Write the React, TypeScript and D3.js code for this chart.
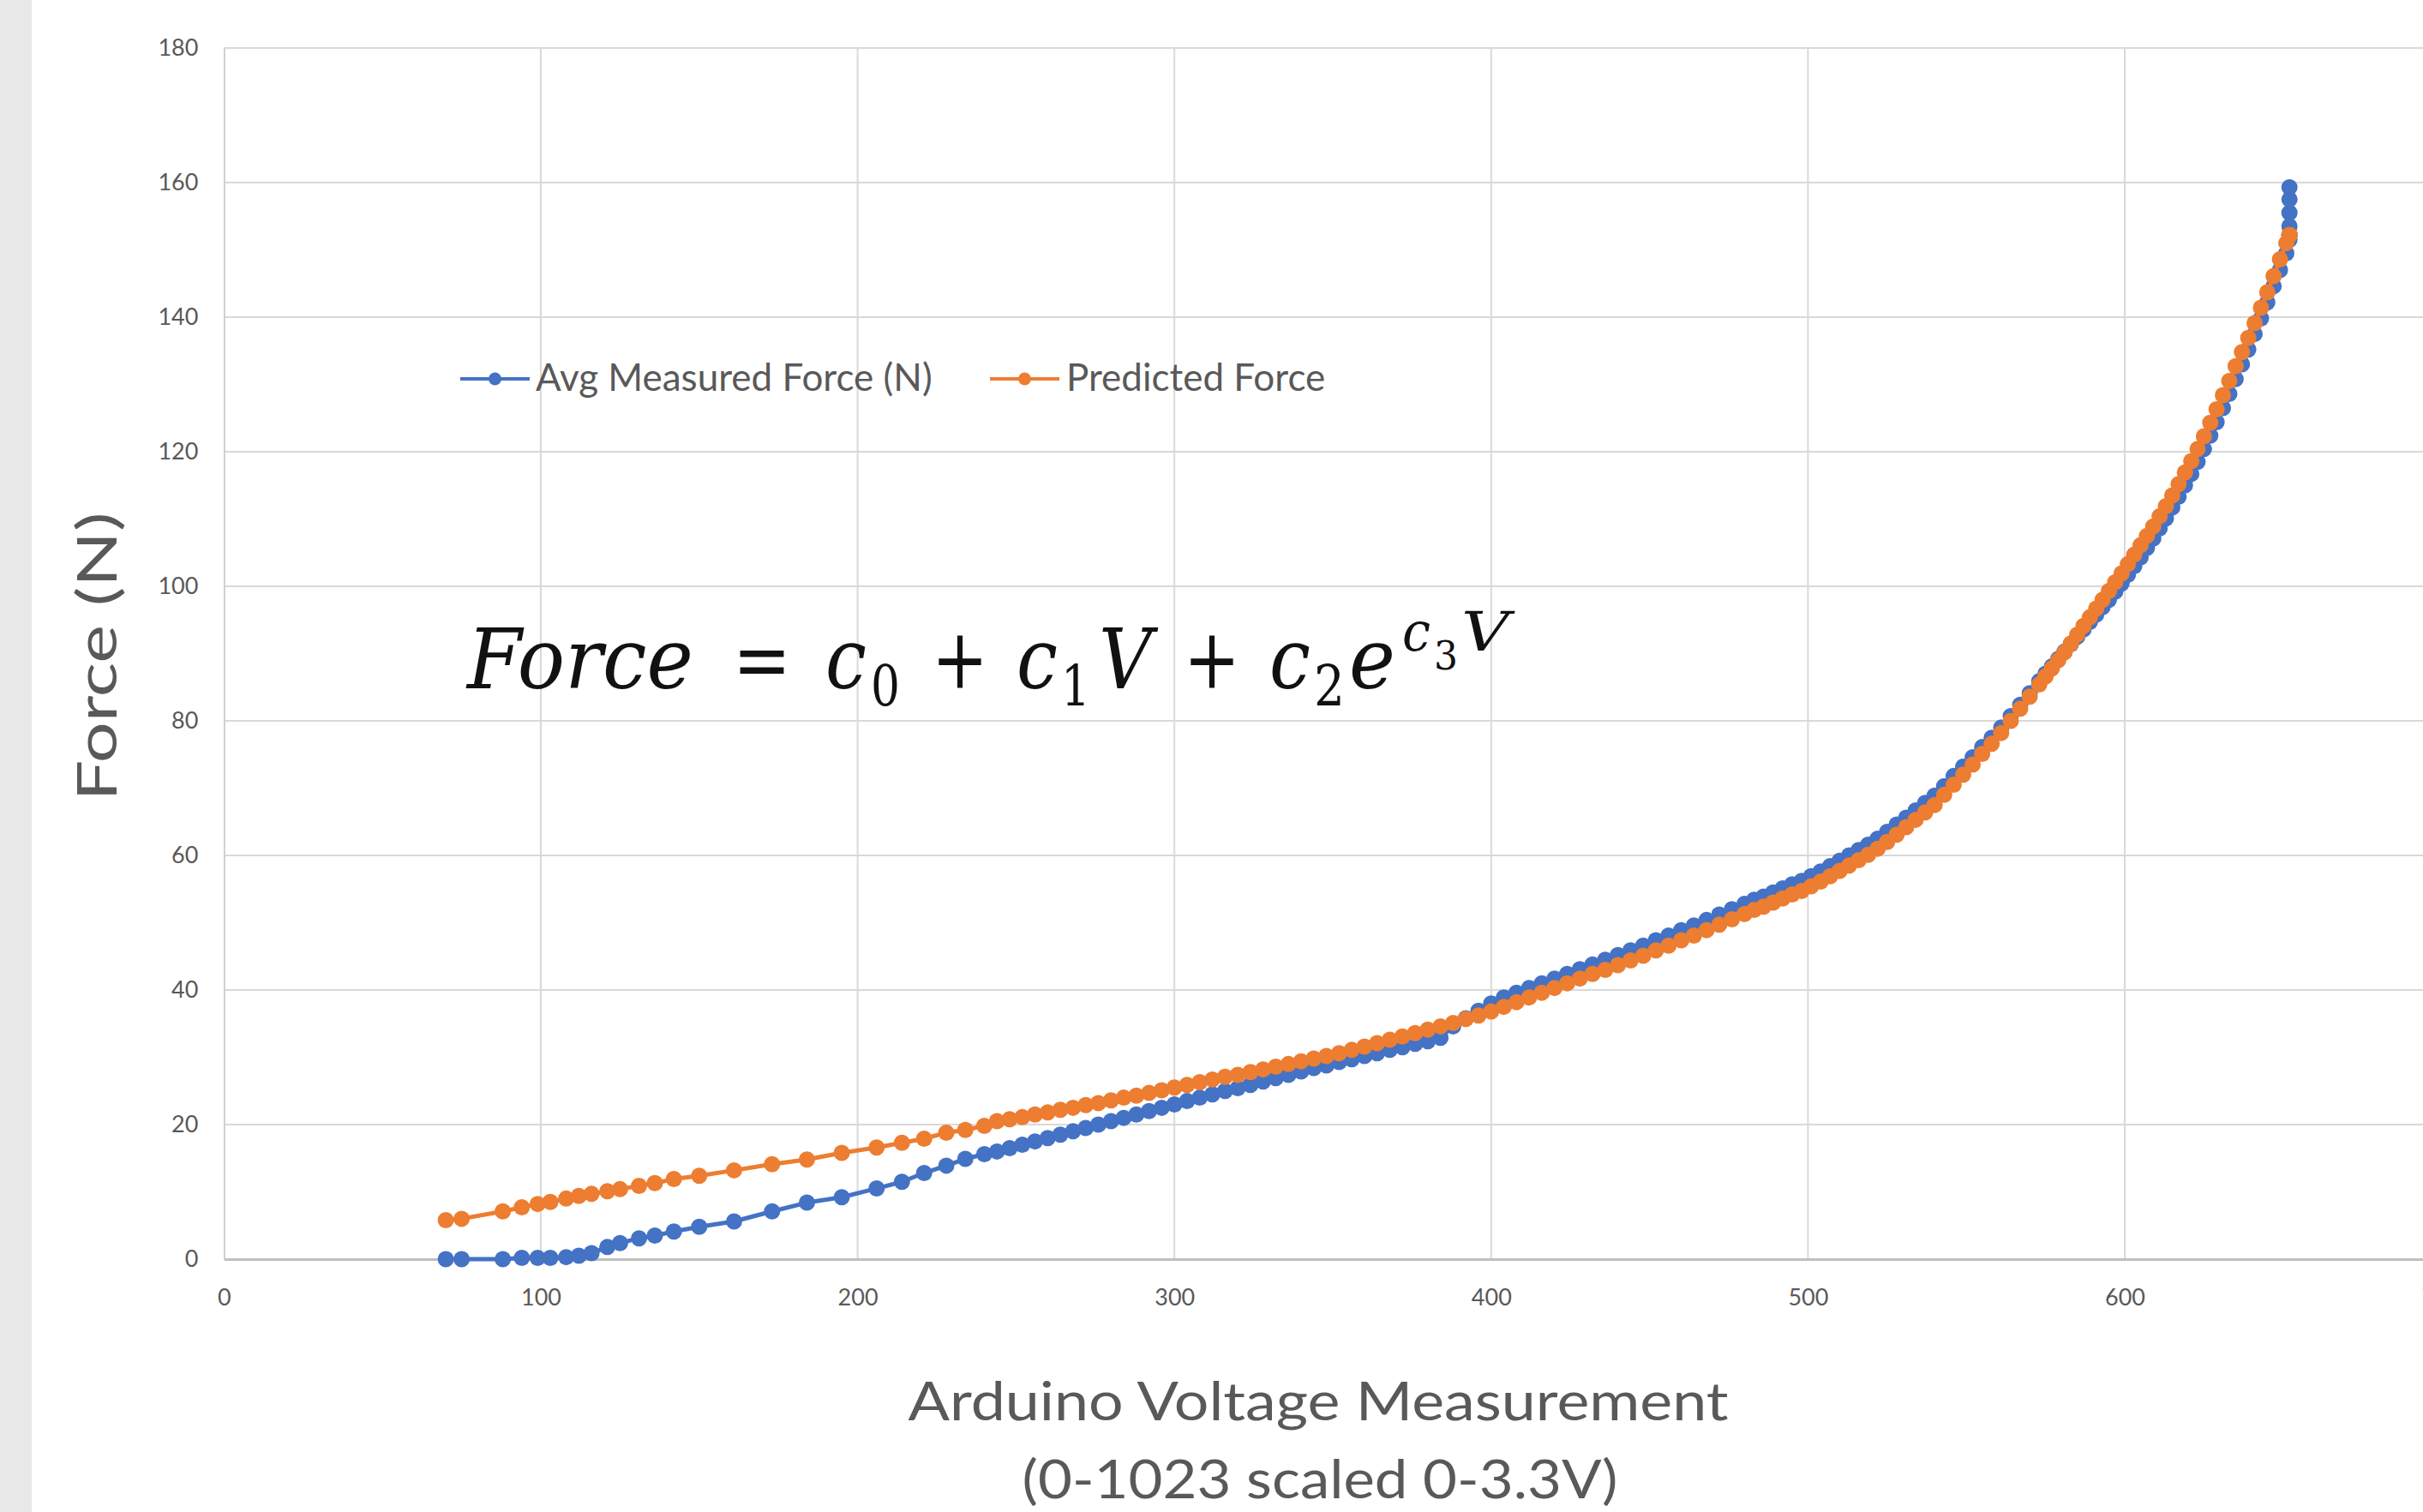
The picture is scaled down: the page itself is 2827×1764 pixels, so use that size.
import React, { useEffect, useRef } from 'react';
import * as d3 from 'd3';

// Arduino reading (0-1023 counts), shared by both series
const voltage = [
  70, 75, 88, 94, 99, 103, 108, 112, 116, 121, 125, 131, 136, 142, 150, 161, 173, 184, 195, 206, 214, 221, 228, 234, 240,
  244, 248, 252, 256, 260, 264, 268, 272, 276, 280, 284, 288, 292, 296, 300,
  304, 308, 312, 316, 320, 324, 328, 332, 336, 340, 344, 348, 352, 356, 360, 364, 368, 372, 376, 380, 384,
  388, 392, 396, 400, 404, 408, 412, 416, 420, 424, 428, 432, 436, 440, 444, 448, 452, 456, 460, 464, 468, 472, 476, 480,
  483, 486, 489, 492, 495, 498, 501, 504, 507, 510, 513, 516, 519, 522, 525, 528, 531, 534, 537, 540,
  543, 546, 549, 552, 555, 558, 561, 564, 567, 570, 573,
  575, 577, 579, 581, 583, 585, 587, 589, 591, 593, 595, 597, 599, 601, 603, 605, 607, 609, 611, 613,
  615, 617, 619, 621, 623, 625, 627, 629, 631, 633, 635, 637, 639, 641, 643, 645, 647, 649, 651,
  652, 652, 652, 652, 652,
];

const measuredForce = [
  0, 0, 0, 0.2, 0.2, 0.2, 0.3, 0.5, 0.9, 1.8, 2.4, 3.1, 3.5, 4.1, 4.8, 5.6, 7.1, 8.4, 9.2, 10.5, 11.5, 12.8, 13.9, 14.9, 15.6,
  16.0, 16.5, 17.0, 17.5, 18.0, 18.5, 19.0, 19.5, 20.0, 20.5, 21.0, 21.5, 22.0, 22.5, 23.0,
  23.5, 24.0, 24.5, 25.0, 25.4, 25.9, 26.4, 26.9, 27.4, 27.9, 28.4, 28.8, 29.3, 29.7, 30.2, 30.6, 31.1, 31.5, 32.0, 32.4, 32.9,
  34.6, 35.8, 36.9, 38.0, 38.9, 39.6, 40.3, 41.0, 41.7, 42.4, 43.1, 43.8, 44.5, 45.2, 45.9, 46.6, 47.4, 48.1, 48.9, 49.6, 50.4, 51.2, 52.0, 52.8,
  53.4, 53.9, 54.5, 55.1, 55.7, 56.2, 56.9, 57.6, 58.4, 59.2, 60.0, 60.8, 61.6, 62.5, 63.5, 64.6, 65.6, 66.7, 67.8, 68.9,
  70.3, 71.8, 73.2, 74.6, 76.1, 77.5, 79.0, 80.7, 82.4, 84.1, 85.9,
  87.0, 88.1, 89.2, 90.3, 91.4, 92.5, 93.6, 94.7, 95.8, 96.9, 98.0, 99.2, 100.4, 101.7, 103.0, 104.3, 105.7, 107.1, 108.6, 110.1,
  111.7, 113.3, 115.0, 116.7, 118.5, 120.4, 122.4, 124.4, 126.5, 128.6, 130.8, 133.0, 135.2, 137.5, 139.8, 142.2, 144.6, 147.0, 149.5,
  151.5, 153.5, 155.5, 157.5, 159.3,
];

const predictedForce = [
  5.8, 6.0, 7.1, 7.7, 8.2, 8.5, 9.0, 9.4, 9.7, 10.1, 10.4, 10.9, 11.3, 11.9, 12.4, 13.2, 14.1, 14.8, 15.8, 16.6, 17.3, 17.9, 18.8, 19.2, 19.8,
  20.5, 20.8, 21.1, 21.5, 21.8, 22.2, 22.5, 22.9, 23.2, 23.6, 24.0, 24.3, 24.7, 25.1, 25.5,
  25.9, 26.3, 26.7, 27.1, 27.4, 27.8, 28.2, 28.6, 29.0, 29.4, 29.8, 30.2, 30.6, 31.1, 31.6, 32.1, 32.6, 33.1, 33.6, 34.1, 34.6,
  35.1, 35.7, 36.2, 36.8, 37.5, 38.2, 38.9, 39.6, 40.3, 41.0, 41.7, 42.4, 43.0, 43.7, 44.4, 45.1, 45.9, 46.6, 47.4, 48.1, 48.9, 49.7, 50.5, 51.3,
  51.9, 52.4, 53.0, 53.6, 54.2, 54.7, 55.4, 56.1, 56.9, 57.7, 58.5, 59.3, 60.1, 61.0, 62.0, 63.1, 64.2, 65.3, 66.4, 67.5,
  69.0, 70.5, 72.0, 73.5, 75.1, 76.6, 78.2, 80.0, 81.8, 83.6, 85.4,
  86.6, 87.8, 89.0, 90.2, 91.5, 92.8, 94.1, 95.4, 96.7, 98.0, 99.3, 100.6, 101.9, 103.3, 104.7, 106.1, 107.5, 108.9, 110.4, 111.9,
  113.5, 115.2, 116.9, 118.6, 120.4, 122.3, 124.3, 126.3, 128.4, 130.5, 132.7, 134.8, 136.9, 139.1, 141.4, 143.7, 146.1, 148.6, 151.0,
  152.2, 152.2, 152.2, 152.2, 152.2,
];

const xTicks = [0, 100, 200, 300, 400, 500, 600, 700];
const yTicks = [0, 20, 40, 60, 80, 100, 120, 140, 160, 180];
const seriesNames = ['Avg Measured Force (N)', 'Predicted Force'];
const seriesColors = ['#4472C4', '#ED7D31'];

const xTitle = ['Arduino Voltage Measurement', '(0-1023 scaled 0-3.3V)'];
const yTitle = 'Force (N)';

const labelFont = 'Lato, "Open Sans", sans-serif';
const mathFont = '"DejaVu Serif", "Liberation Serif", serif';

export default function App() {
  const ref = useRef<SVGSVGElement>(null);

  useEffect(() => {
    const svg = d3.select(ref.current);
    svg.selectAll('*').remove();
    draw(svg);
  }, []);

  return (
    <svg
      ref={ref}
      width={2827}
      height={1764}
      style={{ position: 'absolute', left: 0, top: 0, display: 'block' }}
    />
  );
}

function draw(svg: any) {
  const width = 2827, height = 1764;

  const x = d3.scaleLinear().domain([0, 700]).range([261.4, 2848.6]);
  const y = d3.scaleLinear().domain([0, 180]).range([1469, 56]);

  svg.append('rect').attr('width', width).attr('height', height).attr('fill', '#ffffff');
  // grey slide edge on the left
  svg.append('rect').attr('width', 37).attr('height', height).attr('fill', '#e8e8e8');

  // gridlines
  const grid = svg.append('g');
  grid.selectAll('line.h').data(yTicks.filter(t => t > 0)).enter().append('line')
    .attr('x1', x(0)).attr('x2', width)
    .attr('y1', (d: number) => y(d)).attr('y2', (d: number) => y(d))
    .attr('stroke', '#d9d9d9').attr('stroke-width', 2);
  grid.selectAll('line.v').data(xTicks.filter(t => t > 0)).enter().append('line')
    .attr('x1', (d: number) => x(d)).attr('x2', (d: number) => x(d))
    .attr('y1', y(180)).attr('y2', y(0))
    .attr('stroke', '#d9d9d9').attr('stroke-width', 2);

  const yAxis = svg.append('g')
    .attr('transform', `translate(${x(0)},0)`)
    .call(d3.axisLeft(y).tickValues(yTicks).tickSize(0).tickPadding(30));
  yAxis.select('.domain').attr('stroke', '#cfcfcf').attr('stroke-width', 2);
  yAxis.selectAll('text')
    .attr('font-family', labelFont).attr('font-size', 27).attr('fill', '#595959');

  const xAxis = svg.append('g')
    .attr('transform', `translate(0,${y(0)})`)
    .call(d3.axisBottom(x).tickValues(xTicks).tickSize(0).tickPadding(35));
  xAxis.select('.domain').attr('stroke', '#bfbfbf').attr('stroke-width', 3);
  xAxis.selectAll('text')
    .attr('font-family', labelFont).attr('font-size', 27).attr('fill', '#595959');

  const series = [measuredForce, predictedForce];

  series.forEach((vals, s) => {
    const line = d3.line<number>()
      .x((_d, i) => x(voltage[i]))
      .y(d => y(d));
    const g = svg.append('g');
    g.append('path')
      .attr('d', line(vals))
      .attr('fill', 'none')
      .attr('stroke', seriesColors[s])
      .attr('stroke-width', 5)
      .attr('stroke-linejoin', 'round');
    g.selectAll('circle').data(vals).enter().append('circle')
      .attr('cx', (_d: number, i: number) => x(voltage[i]))
      .attr('cy', (d: number) => y(d))
      .attr('r', 9.5)
      .attr('fill', seriesColors[s]);
  });

  // legend
  const legendItems = [
    { x0: 537, x1: 618, tx: 625 },
    { x0: 1155, x1: 1236, tx: 1244 },
  ];
  const legend = svg.append('g');
  legendItems.forEach((it, i) => {
    legend.append('line')
      .attr('x1', it.x0).attr('x2', it.x1).attr('y1', 442).attr('y2', 442)
      .attr('stroke', seriesColors[i]).attr('stroke-width', 4);
    legend.append('circle')
      .attr('cx', (it.x0 + it.x1) / 2).attr('cy', 442).attr('r', 7.5)
      .attr('fill', seriesColors[i]);
    legend.append('text')
      .attr('x', it.tx).attr('y', 456)
      .attr('font-family', labelFont).attr('font-size', 44).attr('fill', '#595959')
      .text(seriesNames[i]);
  });

  // axis titles
  svg.append('text')
    .attr('x', 1538).attr('y', 1657).attr('text-anchor', 'middle')
    .attr('font-family', labelFont).attr('font-size', 62).attr('fill', '#595959')
    .attr('textLength', 957).attr('lengthAdjust', 'spacingAndGlyphs')
    .text(xTitle[0]);
  svg.append('text')
    .attr('x', 1540).attr('y', 1748).attr('text-anchor', 'middle')
    .attr('font-family', labelFont).attr('font-size', 62).attr('fill', '#595959')
    .attr('textLength', 695).attr('lengthAdjust', 'spacingAndGlyphs')
    .text(xTitle[1]);
  svg.append('text')
    .attr('transform', 'translate(136,766) rotate(-90)')
    .attr('text-anchor', 'middle')
    .attr('font-family', labelFont).attr('font-size', 64).attr('fill', '#595959')
    .attr('textLength', 337).attr('lengthAdjust', 'spacingAndGlyphs')
    .text(yTitle);

  // fitted equation, one text element built from positioned pieces
  const eq = svg.append('text').attr('fill', '#111111').attr('font-family', mathFont);
  const piece = (t: string, px: number, py: number, size: number, w: number, italic: boolean) => {
    eq.append('tspan')
      .attr('x', px).attr('y', py)
      .attr('font-size', size)
      .attr('font-style', italic ? 'italic' : 'normal')
      .attr('textLength', w).attr('lengthAdjust', 'spacingAndGlyphs')
      .text(t);
  };
  piece('Force', 545, 803, 98, 264, true);
  piece('=', 855, 803, 98, 68, false);
  piece('c', 963, 803, 98, 48, true);
  piece('0', 1016, 823, 66, 34, false);
  piece('+', 1087, 803, 98, 66, false);
  piece('c', 1186, 803, 98, 48, true);
  piece('1', 1238, 823, 66, 34, false);
  piece('V', 1282, 803, 98, 62, true);
  piece('+', 1381, 803, 98, 66, false);
  piece('c', 1481, 803, 98, 48, true);
  piece('2', 1533, 823, 66, 36, false);
  piece('e', 1574, 803, 98, 54, true);
  piece('c', 1636, 759, 64, 33, true);
  piece('3', 1673, 781, 46, 28, false);
  piece('V', 1705, 759, 64, 56, true);
}
